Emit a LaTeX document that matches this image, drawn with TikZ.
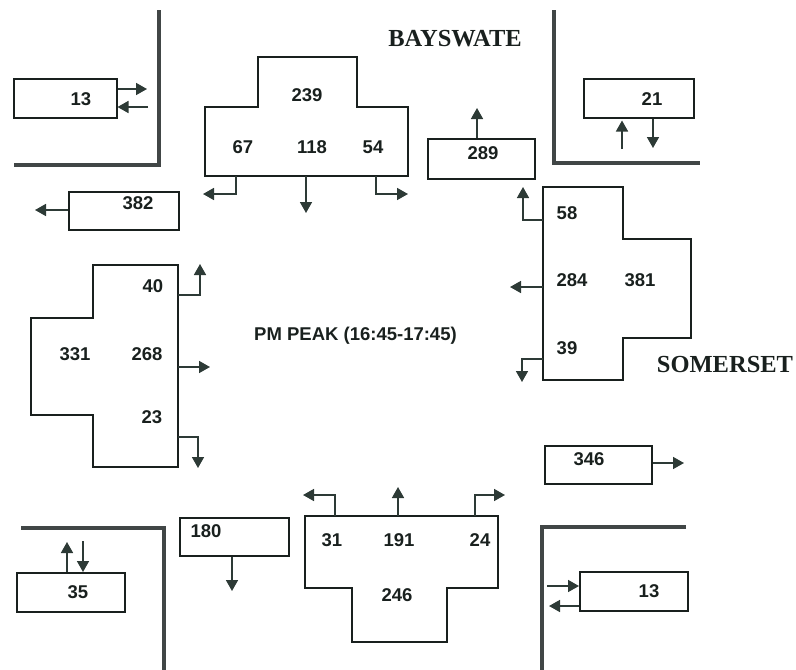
\documentclass[tikz,border=0pt]{standalone}
\usepackage{fontspec}
\setmainfont{Liberation Serif}
\setsansfont{Liberation Sans}
\usetikzlibrary{arrows.meta}
\definecolor{ink}{RGB}{25,32,30}
\definecolor{arrowc}{RGB}{45,58,54}
\definecolor{curb}{RGB}{65,70,70}
\begin{document}
\begin{tikzpicture}[x=1pt,y=-1pt,
  box/.style={draw=ink,line width=1.5pt,rectangle,inner sep=0pt,anchor=north west},
  num/.style={inner sep=0pt,text=ink,font=\sffamily\bfseries\fontsize{18.5}{20}\selectfont},
  street/.style={inner sep=0pt,text=ink,font=\rmfamily\bfseries\fontsize{24.5}{26}\selectfont},
  curbline/.style={draw=curb,line width=3.6pt},
  appr/.style={draw=ink,line width=1.5pt},
  flow/.style={draw=arrowc,line width=1.6pt,-{Triangle[length=11pt,width=12pt]}}]
\useasboundingbox (0,0) rectangle (796,670);

% kerb lines
\draw[curbline] (14,165) -- (159,165) -- (159,10);
\draw[curbline] (554,10) -- (554,163) -- (700,163);
\draw[curbline] (21,528) -- (164,528) -- (164,670);
\draw[curbline] (686,527) -- (542,527) -- (542,670);

% street names and title
\node[street] (bays) at (455,38.5) {BAYSWATE};
\node[street] (somer) at (725,365) {SOMERSET};
\node[num] (title) at (355.5,336) {PM PEAK (16:45-17:45)};

% boxes
\node[box,minimum width=103pt,minimum height=39pt] (btl) at (13,78) {};
\node[num] (tbtl) at (81,99) {13};
\node[box,minimum width=110pt,minimum height=38pt] (b382) at (68,191) {};
\node[num] (t382) at (138,203) {382};
\node[box,minimum width=107pt,minimum height=40pt] (b289) at (427,138) {};
\node[num] (t289) at (483,153) {289};
\node[box,minimum width=110pt,minimum height=39pt] (b21) at (583,78) {};
\node[num] (t21) at (652,99) {21};
\node[box,minimum width=107pt,minimum height=38pt] (b346) at (544,445) {};
\node[num] (t346) at (589,459) {346};
\node[box,minimum width=108pt,minimum height=39pt] (bbr) at (579,571) {};
\node[num] (tbbr) at (649,591) {13};
\node[box,minimum width=108pt,minimum height=39pt] (b35) at (16,572) {};
\node[num] (t35) at (78,592) {35};
\node[box,minimum width=109pt,minimum height=38pt] (b180) at (179,517) {};
\node[num] (t180) at (206,531) {180};

% box arrows
\coordinate (c1) at (147,89);
\draw[flow] (btl.east |- c1) -- (c1);
\coordinate (c2) at (148,107);
\draw[flow] (c2) -- (c2 -| btl.east);
\coordinate (c3) at (35,210);
\draw[flow] (b382.west |- c3) -- (c3);
\coordinate (c4) at (477,108);
\draw[flow] (b289.north -| c4) -- (c4);
\coordinate (c5) at (622,149);
\draw[flow] (c5) -- ([yshift=-2pt]c5 |- b21.south);
\coordinate (c6) at (653,148);
\draw[flow] (b21.south -| c6) -- (c6);
\coordinate (c7) at (684,463);
\draw[flow] (b346.east |- c7) -- (c7);
\coordinate (c8) at (547,586);
\draw[flow] (c8) -- (c8 -| bbr.west);
\coordinate (c9) at (549,606);
\draw[flow] (bbr.west |- c9) -- (c9);
\coordinate (c10) at (67,542);
\draw[flow] (b35.north -| c10) -- (c10);
\coordinate (c11) at (83,541);
\draw[flow] (c11) -- (c11 |- b35.north);
\coordinate (c12) at (232,591);
\draw[flow] (b180.south -| c12) -- (c12);

% north approach
\draw[appr] (205,107) -- (258,107) -- (258,57) -- (357,57) -- (357,107) -- (408,107) -- (408,176) -- (205,176) -- cycle;
\node[num] (n239) at (307,95) {239};
\node[num] (n67) at (243,147) {67};
\node[num] (n118) at (312,147) {118};
\node[num] (n54) at (373,147) {54};
\coordinate (ns1) at (236,176); \coordinate (ne1) at (203,194);
\coordinate (ns2) at (306,176); \coordinate (ne2) at (306,213);
\coordinate (ns3) at (376,176); \coordinate (ne3) at (408,194);
\draw[flow] (ns1) |- (ne1);
\draw[flow] (ns2) -- (ne2);
\draw[flow] (ns3) |- (ne3);

% east approach
\draw[appr] (543,187) -- (623,187) -- (623,239) -- (691,239) -- (691,338) -- (623,338) -- (623,380) -- (543,380) -- cycle;
\node[num] (e58) at (567,213) {58};
\node[num] (e284) at (572,280) {284};
\node[num] (e381) at (640,280) {381};
\node[num] (e39) at (567,348) {39};
\coordinate (es1) at (543,220); \coordinate (ee1) at (523,187);
\coordinate (es2) at (543,287); \coordinate (ee2) at (510,287);
\coordinate (es3) at (543,359); \coordinate (ee3) at (522,382);
\draw[flow] (es1) -| (ee1);
\draw[flow] (es2) -- (ee2);
\draw[flow] (es3) -| (ee3);

% west approach
\draw[appr] (93,265) -- (178,265) -- (178,467) -- (93,467) -- (93,415) -- (31,415) -- (31,318) -- (93,318) -- cycle;
\node[num] (w40) at (153,286) {40};
\node[num] (w331) at (75,354) {331};
\node[num] (w268) at (147,354) {268};
\node[num] (w23) at (152,417) {23};
\coordinate (ws1) at (178,295); \coordinate (we1) at (200,264);
\coordinate (ws2) at (178,367); \coordinate (we2) at (210,367);
\coordinate (ws3) at (178,437); \coordinate (we3) at (198,468);
\draw[flow] (ws1) -| (we1);
\draw[flow] (ws2) -- (we2);
\draw[flow] (ws3) -| (we3);

% south approach
\draw[appr] (305,516) -- (498,516) -- (498,588) -- (447,588) -- (447,642) -- (352,642) -- (352,588) -- (305,588) -- cycle;
\node[num] (s31) at (332,540) {31};
\node[num] (s191) at (399,540) {191};
\node[num] (s24) at (480,540) {24};
\node[num] (s246) at (397,595) {246};
\coordinate (ss1) at (335,516); \coordinate (se1) at (303,495);
\coordinate (ss2) at (398,516); \coordinate (se2) at (398,487);
\coordinate (ss3) at (475,516); \coordinate (se3) at (505,495);
\draw[flow] (ss1) |- (se1);
\draw[flow] (ss2) -- (se2);
\draw[flow] (ss3) |- (se3);
\end{tikzpicture}
\end{document}
